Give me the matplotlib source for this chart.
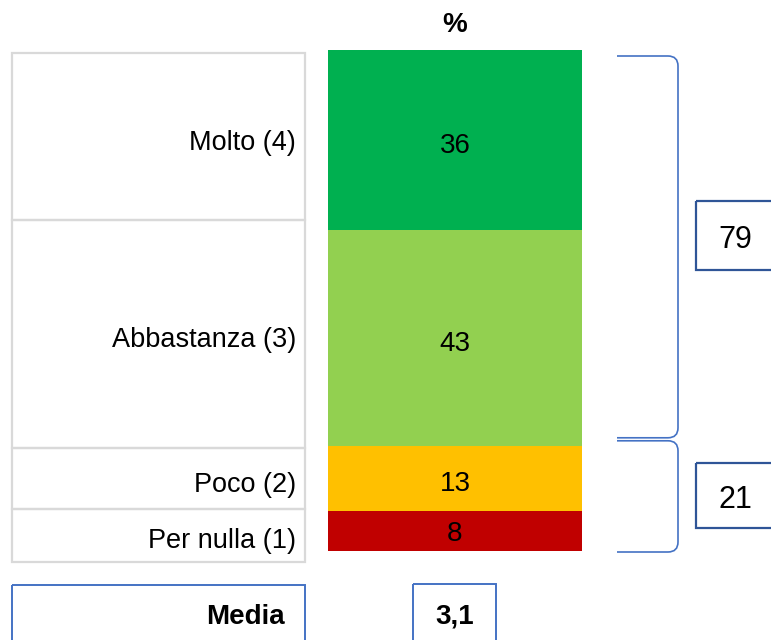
import matplotlib.pyplot as plt
from matplotlib.patches import Rectangle
from matplotlib.path import Path
from matplotlib.patches import PathPatch

plt.rcParams['font.family'] = ['Liberation Sans', 'DejaVu Sans']

# dati
categorie = ['Molto (4)', 'Abbastanza (3)', 'Poco (2)', 'Per nulla (1)']
valori = [36, 43, 13, 8]
colori = ['#00B050', '#92D050', '#FFC000', '#C00000']
gruppi = ['79', '21']          # somme Molto+Abbastanza / Poco+Per nulla
gruppi_val = [79, 21]
media = '3,1'

W, H = 771, 640
fig = plt.figure(figsize=(W / 100, H / 100), dpi=100)

# asse di sfondo in coordinate pixel
ax0 = fig.add_axes([0, 0, 1, 1])
ax0.set_xlim(0, W)
ax0.set_ylim(H, 0)
ax0.axis('off')

# barra impilata
axb = fig.add_axes([328 / W, (H - 551) / H, 254 / W, 501 / H])
cum = 0
for v, c in zip(valori, colori):
    axb.bar(0, v, bottom=cum, width=1.0, color=c, edgecolor='none')
    axb.annotate(str(v), (0, cum + v / 2), xytext=(0, -4 if v > 10 else -2),
                 textcoords='offset points', ha='center', va='center',
                 fontsize=20, color='black')
    cum += v
axb.set_xlim(-0.5, 0.5)
axb.set_ylim(100, 0)
axb.axis('off')


def ypx(v):
    # posizione verticale (pixel) di un valore della barra
    return H - axb.transData.transform((0, v))[1]


ax0.text(455, 25, '%', ha='center', va='center', fontsize=20, fontweight='bold')

# tabella etichette a sinistra
righe = [53, 220, 448, 509, 562]
for i, lab in enumerate(categorie):
    y0, y1 = righe[i], righe[i + 1]
    ax0.add_patch(Rectangle((12, y0), 293, y1 - y0, fill=False, edgecolor='#d9d9d9', lw=1.6))
    ax0.text(296, (y0 + y1) / 2 + 6, lab, ha='right', va='center', fontsize=19.5)


# parentesi graffe
def graffa(ytop, ybot):
    x0, x1, r = 617, 678, 10
    verts = [(x0, ytop), (x1 - r, ytop), (x1, ytop), (x1, ytop + r),
             (x1, ybot - r), (x1, ybot), (x1 - r, ybot), (x0, ybot)]
    codes = [Path.MOVETO, Path.LINETO, Path.CURVE3, Path.CURVE3,
             Path.LINETO, Path.CURVE3, Path.CURVE3, Path.LINETO]
    ax0.add_patch(PathPatch(Path(verts, codes), fill=False, edgecolor='#4472C4', lw=1.2))


graffa(ypx(0) + 6, ypx(gruppi_val[0]) - 8)
graffa(ypx(gruppi_val[0]) - 5, ypx(100) + 1)

# riquadri dei totali
for lab, (y0, y1) in zip(gruppi, [(201, 270), (463, 528)]):
    ax0.add_patch(Rectangle((696, y0), 90, y1 - y0, fill=False, edgecolor='#2F5597', lw=1.6, clip_on=False))
    ax0.text(735, (y0 + y1) / 2 + 5, lab, ha='center', va='center', fontsize=22)

# media
ax0.add_patch(Rectangle((12, 585), 293, 70, fill=False, edgecolor='#4472C4', lw=1.4))
ax0.text(285, 617, 'Media', ha='right', va='center', fontsize=20, fontweight='bold')
ax0.add_patch(Rectangle((413, 584), 83, 70, fill=False, edgecolor='#4472C4', lw=1.4))
ax0.text(455, 617, media, ha='center', va='center', fontsize=20, fontweight='bold')

fig.savefig('out.png', dpi=100)
